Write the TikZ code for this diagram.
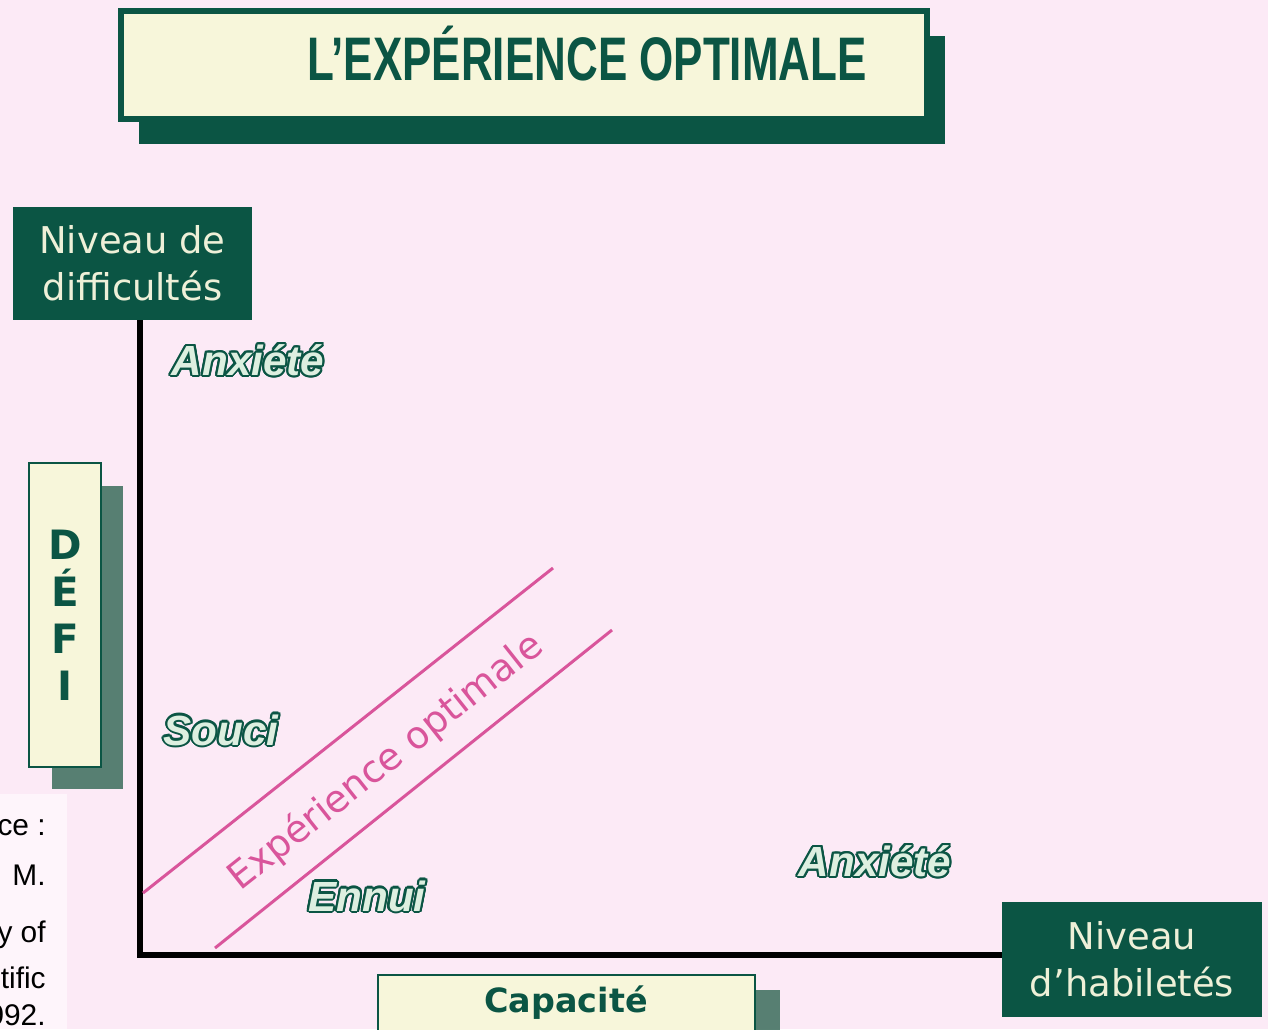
\documentclass[tikz,border=0pt]{standalone}
\usepackage{fontspec}
\setmainfont{DejaVu Sans}
\newfontfamily\titlefont{Liberation Sans}
\newfontfamily\srcfont{Liberation Sans}
\usepackage{contour}
\contourlength{1.2pt}
\usetikzlibrary{shadows, positioning}

\definecolor{bgpink}{HTML}{FCEAF6}
\definecolor{boxgreen}{HTML}{0B5544}
\definecolor{shadegreen}{HTML}{4F7A6B}
\definecolor{cream}{HTML}{F7F6DA}
\definecolor{lightcream}{HTML}{EEF0D8}
\definecolor{flowpink}{HTML}{D9559B}
\definecolor{mint}{HTML}{DDEFE0}
\definecolor{srcbg}{HTML}{FEF5FB}

\tikzset{
	darkbox/.style={fill=boxgreen, text=lightcream, inner sep=0pt, align=center, font=\fontsize{21}{27}\selectfont},
	creambox/.style={fill=cream, draw=boxgreen, inner sep=0pt, align=center},
	moodlabel/.style={font=\titlefont\bfseries\itshape\fontsize{24}{28}\selectfont, text=mint},
}

\begin{document}
\begin{tikzpicture}[x=0.02cm, y=-0.02cm]

	%page
	\fill [bgpink] (0,0) rectangle (1268,1029);
	\useasboundingbox (0,0) rectangle (1268,1029);
	\clip (0,0) rectangle (1268,1029);

	%title
	\node [creambox, line width=3.4pt, minimum width=16.12cm, minimum height=2.16cm,
		drop shadow={shadow xshift=0.36cm, shadow yshift=-0.5cm, fill=boxgreen, opacity=1}] (titlebox) at (524,65) {};
	\node [text=boxgreen, xscale=0.715, font=\titlefont\bfseries\fontsize{35}{40}\selectfont] (titletext) at (587,54) {L’EXPÉRIENCE OPTIMALE};

%axis boxes
	\node [darkbox, minimum width=4.78cm, minimum height=2.26cm] (diff) at (132.5,263.5) {Niveau de\\difficultés};
	\node [darkbox, minimum width=5.2cm, minimum height=2.3cm] (habil) at (1132,959.5) {Niveau\\d’habiletés};

	\node [creambox, line width=1.2pt, minimum width=1.44cm, minimum height=6.08cm,
		drop shadow={shadow xshift=0.45cm, shadow yshift=-0.45cm, fill=shadegreen, opacity=0.95},
		text=boxgreen, font=\bfseries\fontsize{23}{26.7}\selectfont] (defi) at (65,615) {D\\É\\F\\I};

	\node [creambox, line width=1.2pt, minimum width=7.54cm, minimum height=1.7cm,
		drop shadow={shadow xshift=0.5cm, shadow yshift=-0.3cm, fill=shadegreen, opacity=0.95}] (capbox) at (566.5,1017.5) {};
	\node [text=boxgreen, font=\bfseries\fontsize{19}{22}\selectfont] (captext) at (566,1003) {Capacité};

%axes
	\coordinate (origin) at (140,955);
	\draw [black, line width=2.9pt] (diff.south -| origin) -- (origin) -- (origin -| habil.west);

%flow channel
	\coordinate (FA) at (143,893);
	\coordinate (FB) at (553,568);
	\coordinate (FC) at (215,948);
	\coordinate (FD) at (612,630);
	\draw [flowpink, line width=1.7pt] (FA) -- (FB);
	\draw [flowpink, line width=1.7pt] (FC) -- (FD);
	\node [text=flowpink, rotate=38.4, font=\fontsize{21.5}{26}\selectfont] (flow) at (386,762) {Expérience optimale};

%zones
	\node [moodlabel] (anxtop) at (248,361) {\contour{boxgreen}{Anxiété}};
	\node [moodlabel] (souci) at (221,731) {\contour{boxgreen}{Souci}};
	\node [moodlabel] (ennui) at (367,897) {\contour{boxgreen}{Ennui}};
	\node [moodlabel] (anxright) at (875,862) {\contour{boxgreen}{Anxiété}};

%source fragment
	\fill [srcbg] (0,794) rectangle (67,1029);
	\foreach \txt/\y [count=\i] in {ce :/835, M./885, y of/942, tific/988, 992./1025}
		\node [anchor=base east, inner sep=0pt, font=\srcfont\fontsize{17}{20}\selectfont] (src\i) at (46,\y) {\txt};

\end{tikzpicture}
\end{document}
